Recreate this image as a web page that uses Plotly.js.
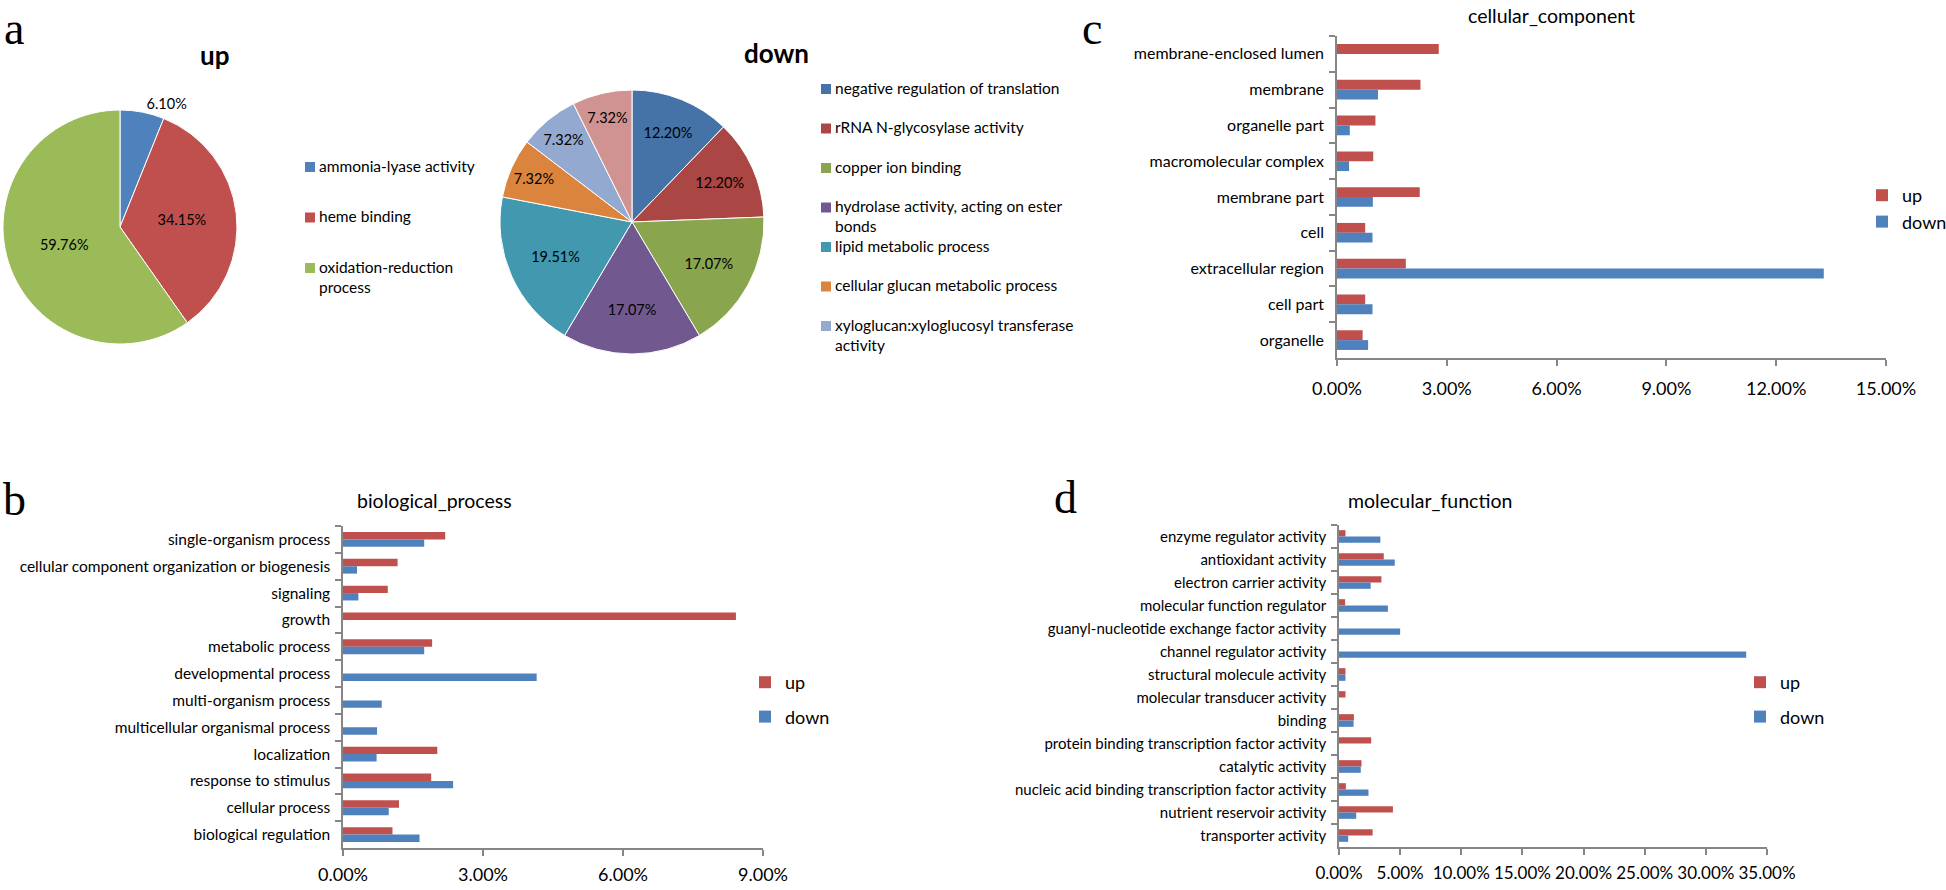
<!DOCTYPE html>
<html>
<head>
<meta charset="utf-8">
<script src="https://cdn.plot.ly/plotly-3.0.1.min.js"></script>
<style>html,body{margin:0;padding:0;background:#fff;}#chart{width:1946px;height:890px;}</style>
</head>
<body>
<div id="chart"></div>
<script>
// ---------- data ----------
const upPieLabels = ['ammonia-lyase activity', 'heme binding', 'oxidation-reduction process'];
const upPieValues = [6.10, 34.15, 59.76];
const upPieColors = ['#4F81BD', '#C0504D', '#9BBB59'];

const downPieLabels = ['negative regulation of translation', 'rRNA N-glycosylase activity', 'copper ion binding',
  'hydrolase activity, acting on ester bonds', 'lipid metabolic process', 'cellular glucan metabolic process',
  'xyloglucan:xyloglucosyl transferase activity', 'other'];
const downPieValues = [12.20, 12.20, 17.07, 17.07, 19.51, 7.32, 7.32, 7.32];
const downPieColors = ['#4572A7', '#AA4643', '#89A54E', '#71588F', '#4198AF', '#DB843D', '#93A9CF', '#D19392'];
const downLegendShown = 7; // the source legend is cut off after 7 entries

const bpCats = ['single-organism process', 'cellular component organization or biogenesis', 'signaling', 'growth',
  'metabolic process', 'developmental process', 'multi-organism process', 'multicellular organismal process',
  'localization', 'response to stimulus', 'cellular process', 'biological regulation'];
const bpUp   = [2.19, 1.17, 0.96, 8.42, 1.91, 0, 0, 0, 2.02, 1.89, 1.20, 1.06];
const bpDown = [1.74, 0.30, 0.33, 0, 1.74, 4.15, 0.83, 0.73, 0.72, 2.36, 0.98, 1.64];

const ccCats = ['membrane-enclosed lumen', 'membrane', 'organelle part', 'macromolecular complex', 'membrane part',
  'cell', 'extracellular region', 'cell part', 'organelle'];
const ccUp   = [2.78, 2.28, 1.05, 0.99, 2.26, 0.77, 1.88, 0.77, 0.70];
const ccDown = [0, 1.12, 0.35, 0.33, 0.98, 0.97, 13.3, 0.97, 0.85];

const mfCats = ['enzyme regulator activity', 'antioxidant activity', 'electron carrier activity',
  'molecular function regulator', 'guanyl-nucleotide exchange factor activity', 'channel regulator activity',
  'structural molecule activity', 'molecular transducer activity', 'binding',
  'protein binding transcription factor activity', 'catalytic activity',
  'nucleic acid binding transcription factor activity', 'nutrient reservoir activity', 'transporter activity'];
const mfUp   = [0.53, 3.66, 3.47, 0.50, 0, 0, 0.53, 0.53, 1.22, 2.63, 1.84, 0.56, 4.41, 2.75];
const mfDown = [3.38, 4.56, 2.59, 4.00, 5.00, 33.3, 0.53, 0, 1.19, 0, 1.78, 2.41, 1.41, 0.75];

const seriesNames = ['up', 'down'];
const seriesColors = ['#C0504D', '#4F81BD'];

// ---------- layout helpers ----------
const W = 1946, H = 890;
const FONT = 'Lato, "Open Sans", sans-serif';
const SERIF = '"Liberation Serif", "DejaVu Serif", serif';
const px = v => v / W;
const py = v => 1 - v / H;

function wrap(s, max) {
  const words = s.split(' ');
  const lines = [];
  let cur = '';
  for (const w of words) {
    if (cur && (cur + ' ' + w).length > max) { lines.push(cur); cur = w; }
    else cur = cur ? cur + ' ' + w : w;
  }
  if (cur) lines.push(cur);
  return lines.join('<br>');
}

const traces = [];

// ---------- pies ----------
traces.push({
  type: 'pie', labels: upPieLabels, values: upPieValues, sort: false, direction: 'clockwise', rotation: 0,
  marker: {colors: upPieColors, line: {color: '#ffffff', width: 1}},
  texttemplate: '%{value:.2f}%', textposition: ['outside', 'inside', 'inside'],
  insidetextorientation: 'horizontal',
  textfont: {family: FONT, size: 14.5, color: '#000'},
  insidetextfont: {family: FONT, size: 14.5, color: '#000'},
  outsidetextfont: {family: FONT, size: 14.5, color: '#000'},
  domain: {x: [px(3), px(237)], y: [py(344), py(110)]},
  showlegend: false, hoverinfo: 'label+percent'
});
traces.push({
  type: 'pie', labels: downPieLabels, values: downPieValues, sort: false, direction: 'clockwise', rotation: 0,
  marker: {colors: downPieColors, line: {color: '#ffffff', width: 1}},
  texttemplate: '%{value:.2f}%', textposition: 'inside',
  insidetextorientation: 'horizontal',
  textfont: {family: FONT, size: 14.5, color: '#000'},
  insidetextfont: {family: FONT, size: 14.5, color: '#000'},
  domain: {x: [px(500), px(764)], y: [py(354), py(90)]},
  showlegend: false, hoverinfo: 'label+percent'
});

// ---------- bars ----------
function addBars(cats, up, down, xa, ya, legendId, key) {
  [up, down].forEach((vals, i) => {
    traces.push({
      type: 'bar', orientation: 'h', name: seriesNames[i], y: cats, x: vals,
      xaxis: xa, yaxis: ya, legend: legendId, legendgroup: key + seriesNames[i],
      marker: {color: seriesColors[i], line: {width: 0}},
      hovertemplate: '%{y}: %{x:.2f}%<extra>' + seriesNames[i] + '</extra>'
    });
  });
}
addBars(bpCats, bpUp, bpDown, 'x', 'y', 'legend', 'bp');
addBars(ccCats, ccUp, ccDown, 'x2', 'y2', 'legend2', 'cc');
addBars(mfCats, mfUp, mfDown, 'x3', 'y3', 'legend3', 'mf');

const axisLine = '#868686';
function xAxis(domain, yref, range, dtick, standoff, size) {
  return {
    domain: domain, anchor: yref, range: range, tick0: 0, dtick: dtick, automargin: false,
    tickformat: '.2f', ticksuffix: '%', showgrid: false, zeroline: false, tickangle: 0,
    showline: true, linecolor: axisLine, linewidth: 1.5,
    ticks: 'outside', ticklen: 6, tickwidth: 1.5, tickcolor: axisLine,
    tickfont: {family: FONT, size: size, color: '#000'}, ticklabelstandoff: standoff, fixedrange: true
  };
}
function yAxis(domain, xref, n, size) {
  return {
    domain: domain, anchor: xref, type: 'category', range: [n - 0.5, -0.5], automargin: false,
    showgrid: false, zeroline: false, showline: true, linecolor: axisLine, linewidth: 1.5,
    ticks: 'outside', tickson: 'boundaries', ticklen: 6, tickwidth: 1.5, tickcolor: axisLine,
    tickfont: {family: FONT, size: size, color: '#000'}, ticklabelstandoff: 8, fixedrange: true
  };
}

const legendBase = {
  orientation: 'v', xanchor: 'left', yanchor: 'top', bgcolor: 'rgba(0,0,0,0)',
  font: {family: FONT, size: 18, color: '#000'}, traceorder: 'grouped', itemwidth: 30, itemclick: false
};

const annotations = [];
const shapes = [];
function txt(x, y, text, opts) {
  annotations.push(Object.assign({xref: 'paper', yref: 'paper', x: px(x), y: py(y), text: text,
    showarrow: false, xanchor: 'center', yanchor: 'middle',
    font: {family: FONT, size: 19.5, color: '#000'}}, opts || {}));
}

// panel letters
const letterFont = {family: SERIF, size: 46, color: '#000'};
txt(14, 1, 'a', {font: letterFont, yanchor: 'top'});
txt(14, 499, 'b', {font: letterFont});
txt(1092, 1, 'c', {font: letterFont, yanchor: 'top'});
txt(1065, 497, 'd', {font: letterFont});

// titles
txt(214, 55, '<b>up</b>', {font: {family: FONT, size: 26, color: '#000'}});
txt(776, 53, '<b>down</b>', {font: {family: FONT, size: 26, color: '#000'}});
txt(1551, 15, 'cellular_component');
txt(434, 500, 'biological_process');
txt(1430, 500, 'molecular_function');

// pie legends (hand-placed legend boxes built from the label / colour arrays)
function pieLegend(labels, colors, count, sqX, textX, firstY, step, maxChars, fontSize) {
  for (let i = 0; i < count; i++) {
    const cy = firstY + i * step;
    shapes.push({type: 'rect', xref: 'paper', yref: 'paper', x0: px(sqX), x1: px(sqX + 10),
      y0: py(cy + 5), y1: py(cy - 5), fillcolor: colors[i], line: {width: 0}});
    annotations.push({xref: 'paper', yref: 'paper', x: px(textX), y: py(cy - fontSize * 0.72),
      text: wrap(labels[i], maxChars), showarrow: false, xanchor: 'left', yanchor: 'top', align: 'left',
      borderpad: 0, font: {family: FONT, size: fontSize, color: '#000'}});
  }
}
pieLegend(upPieLabels, upPieColors, upPieLabels.length, 305, 318, 167, 50.5, 22, 15.5);
pieLegend(downPieLabels, downPieColors, downLegendShown, 821, 834, 89, 39.5, 35, 15.5);

const layout = {
  width: W, height: H, margin: {l: 0, r: 0, t: 0, b: 0, autoexpand: false},
  paper_bgcolor: '#fff', plot_bgcolor: 'rgba(0,0,0,0)',
  font: {family: FONT, color: '#000'},
  barmode: 'group', bargap: 0.45, bargroupgap: 0,
  xaxis:  xAxis([px(343), px(763)], 'y', [0, 9], 3, 4, 18),
  yaxis:  yAxis([py(848), py(526)], 'x', bpCats.length, 15.5),
  xaxis2: xAxis([px(1337), px(1886)], 'y2', [0, 15], 3, 8, 18),
  yaxis2: yAxis([py(358), py(36)], 'x2', ccCats.length, 16),
  xaxis3: xAxis([px(1339), px(1767)], 'y3', [0, 35], 5, 4, 17),
  yaxis3: yAxis([py(847), py(525)], 'x3', mfCats.length, 15),
  legend:  Object.assign({}, legendBase, {x: px(745), y: py(664), tracegroupgap: 8}),
  legend2: Object.assign({}, legendBase, {x: px(1862), y: py(177), tracegroupgap: 0}),
  legend3: Object.assign({}, legendBase, {x: px(1740), y: py(664), tracegroupgap: 8}),
  annotations: annotations, shapes: shapes, hovermode: 'closest'
};

Plotly.newPlot('chart', traces, layout, {displayModeBar: false, responsive: false});
</script>
</body>
</html>
